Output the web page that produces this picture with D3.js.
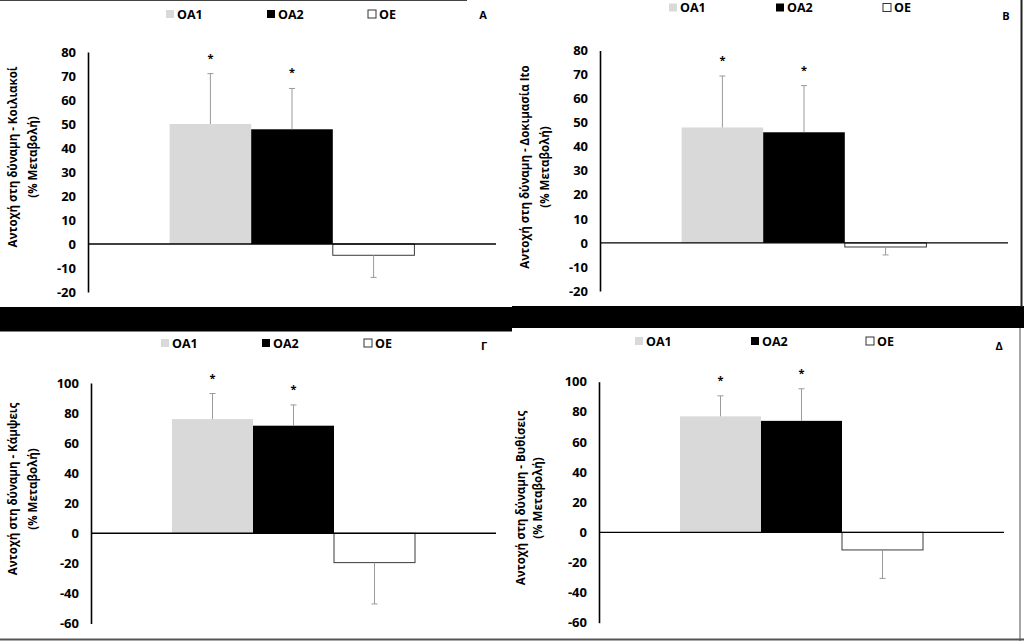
<!DOCTYPE html>
<html><head><meta charset="utf-8">
<script src="https://cdn.jsdelivr.net/npm/d3@7"></script>
<style>
body{margin:0;background:#fff}
svg{display:block}
text{font-family:"Open Sans",sans-serif;font-weight:bold;fill:#000}
</style>
</head><body>
<svg id="c" width="1024" height="641"></svg>
<script>
// ---- data ----
const series = ["ΟΑ1", "ΟΑ2", "ΟΕ"];
const panelLabels = ["Α", "Β", "Γ", "Δ"];
const yTitles = [
  "Αντοχή στη δύναμη - Κοιλιακοί",
  "Αντοχή στη δύναμη - Δοκιμασία Ito",
  "Αντοχή στη δύναμη - Κάμψεις",
  "Αντοχή στη δύναμη - Βυθίσεις"
];
const yUnit = "(% Μεταβολή)";
const meansA = [50, 47.8, -4.7];
const sdA = [21, 17, 9.2];
const meansB = [48, 46, -1.7];
const sdB = [21.4, 19.4, 3.3];
const meansG = [76, 71.6, -19.5];
const sdG = [17, 13.8, 27.5];
const meansD = [77, 74, -11.7];
const sdD = [13.6, 21.3, 18.9];
const significant = [true, true, false];
const ticksTop = [80, 70, 60, 50, 40, 30, 20, 10, 0, -10, -20];
const ticksBottom = [100, 80, 60, 40, 20, 0, -20, -40, -60];

// ---- layout (pixels / styles) ----
const fills = ["#d9d9d9", "#000000", "#ffffff"];
const strokes = ["none", "none", "#3a3a3a"];
const layout = [
  {x0: 88, x1: 496, yT: 52, yB: 292, ticks: ticksTop, means: meansA, sd: sdA,
   titleX: [12, 32], titleY: 157, legY: 14, legX: [166, 267, 368], letter: [483, 14]},
  {x0: 600, x1: 1008, yT: 50.5, yB: 291, ticks: ticksTop, means: meansB, sd: sdB,
   titleX: [524, 544], titleY: 167, legY: 7.5, legX: [669, 776, 883], letter: [1006, 15]},
  {x0: 91, x1: 496, yT: 383, yB: 623.5, ticks: ticksBottom, means: meansG, sd: sdG,
   titleX: [12, 32], titleY: 489, legY: 343, legX: [161, 262, 364], letter: [484, 345]},
  {x0: 599, x1: 1004, yT: 381.7, yB: 622.7, ticks: ticksBottom, means: meansD, sd: sdD,
   titleX: [520, 537], titleY: 498, legY: 341, legX: [635, 751, 866], letter: [999, 345]}
];

const svg = d3.select("#c");
svg.append("rect").attr("width", 1024).attr("height", 641).attr("fill", "#fff");

// separators / frame artefacts
svg.append("rect").attr("x", 0).attr("y", 307).attr("width", 512).attr("height", 24.5).attr("fill", "#000");
svg.append("rect").attr("x", 512).attr("y", 306).attr("width", 512).attr("height", 22).attr("fill", "#000");
svg.append("line").attr("x1", 0).attr("x2", 467).attr("y1", 0.5).attr("y2", 0.5).attr("stroke", "#444");
svg.append("line").attr("x1", 1021.5).attr("x2", 1021.5).attr("y1", 0).attr("y2", 307).attr("stroke", "#222").attr("stroke-width", 2);
svg.append("line").attr("x1", 1020).attr("x2", 1020).attr("y1", 328).attr("y2", 641).attr("stroke", "#888").attr("stroke-width", 1.5);
svg.append("line").attr("x1", 0).attr("x2", 1024).attr("y1", 639.5).attr("y2", 639.5).attr("stroke", "#555").attr("stroke-width", 2);

layout.forEach((p, i) => {
  const g = svg.append("g");
  const dom = [d3.min(p.ticks), d3.max(p.ticks)];
  const y = d3.scaleLinear().domain(dom).range([p.yB, p.yT]);
  const x = d3.scaleBand().domain(series).range([p.x0, p.x1]).paddingInner(0).paddingOuter(1);

  // y axis
  const ax = g.append("g").attr("transform", `translate(${p.x0},0)`)
    .call(d3.axisLeft(y).tickValues(p.ticks).tickFormat(d => String(d))
      .tickSize(0).tickSizeOuter(0).tickPadding(12));
  ax.select(".domain").attr("stroke", "#000").attr("stroke-width", 1.6);
  ax.selectAll("text").style("font-family", '"Open Sans",sans-serif').style("font-weight", "bold")
    .style("font-size", "13px").attr("fill", "#000");

  // bars
  g.selectAll("rect.bar").data(series).enter().append("rect")
    .attr("x", d => x(d))
    .attr("width", x.bandwidth())
    .attr("y", (d, k) => y(Math.max(0, p.means[k])))
    .attr("height", (d, k) => Math.abs(y(p.means[k]) - y(0)))
    .attr("fill", (d, k) => fills[k])
    .attr("stroke", (d, k) => strokes[k])
    .attr("stroke-width", 1);

  // error bars (one-sided, away from zero)
  series.forEach((s, k) => {
    const m = p.means[k];
    const end = m + Math.sign(m) * p.sd[k];
    const cx = x(s) + x.bandwidth() / 2;
    g.append("line").attr("x1", cx).attr("x2", cx).attr("y1", y(m)).attr("y2", y(end))
      .attr("stroke", "#9a9a9a").attr("stroke-width", 1);
    g.append("line").attr("x1", cx - 3).attr("x2", cx + 3).attr("y1", y(end)).attr("y2", y(end))
      .attr("stroke", "#9a9a9a").attr("stroke-width", 1);
    if (significant[k]) {
      g.append("text").attr("x", cx).attr("y", y(end) - 18 + 6)
        .attr("text-anchor", "middle").style("font-size", "11px").attr("fill", "#333").text("*");
    }
  });

  // zero line
  g.append("line").attr("x1", p.x0).attr("x2", p.x1).attr("y1", y(0)).attr("y2", y(0))
    .attr("stroke", "#000").attr("stroke-width", 1.4);

  // y title
  g.append("text").attr("transform", `translate(${p.titleX[0]},${p.titleY}) rotate(-90)`)
    .attr("text-anchor", "middle").attr("dominant-baseline", "central")
    .style("font-size", "11.5px").text(yTitles[i]);
  g.append("text").attr("transform", `translate(${p.titleX[1]},${p.titleY}) rotate(-90)`)
    .attr("text-anchor", "middle").attr("dominant-baseline", "central")
    .style("font-size", "11.5px").text(yUnit);

  // legend
  series.forEach((s, k) => {
    g.append("rect").attr("x", p.legX[k]).attr("y", p.legY - 4).attr("width", 8).attr("height", 8)
      .attr("fill", fills[k]).attr("stroke", k === 2 ? "#333" : "none").attr("stroke-width", 1);
    g.append("text").attr("x", p.legX[k] + 11).attr("y", p.legY).attr("dominant-baseline", "central")
      .style("font-size", "12.5px").text(s);
  });

  // panel letter
  g.append("text").attr("x", p.letter[0]).attr("y", p.letter[1]).attr("text-anchor", "middle")
    .attr("dominant-baseline", "central").style("font-size", "11px").text(panelLabels[i]);
});
</script>
</body></html>
